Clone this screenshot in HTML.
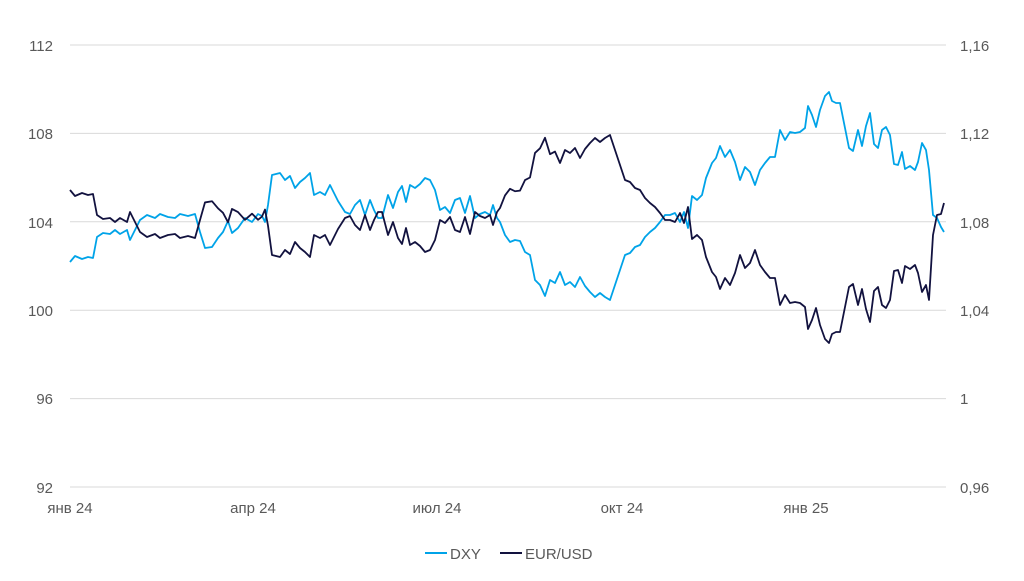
<!DOCTYPE html>
<html><head><meta charset="utf-8"><style>
body{margin:0;background:#fff;width:1024px;height:576px;overflow:hidden;font-family:"Liberation Sans",sans-serif}
svg text{font-family:"Liberation Sans",sans-serif;font-size:15px;fill:#595959}
</style></head><body>
<svg id="s" width="1024" height="576" xmlns="http://www.w3.org/2000/svg">
<g stroke="#d9d9d9" stroke-width="1">
<line x1="70" x2="946" y1="45" y2="45"/><line x1="70" x2="946" y1="133.4" y2="133.4"/>
<line x1="70" x2="946" y1="221.8" y2="221.8"/><line x1="70" x2="946" y1="310.2" y2="310.2"/>
<line x1="70" x2="946" y1="398.6" y2="398.6"/><line x1="70" x2="946" y1="487" y2="487"/>
</g>
<g text-anchor="end">
<text x="53" y="51">112</text><text x="53" y="139">108</text><text x="53" y="228">104</text>
<text x="53" y="316">100</text><text x="53" y="404">96</text><text x="53" y="493">92</text>
</g>
<g text-anchor="start">
<text x="960" y="51">1,16</text><text x="960" y="139">1,12</text><text x="960" y="228">1,08</text>
<text x="960" y="316">1,04</text><text x="960" y="404">1</text><text x="960" y="493">0,96</text>
</g>
<g text-anchor="middle">
<text x="70" y="513">янв 24</text><text x="253" y="513">апр 24</text><text x="437" y="513">июл 24</text>
<text x="622" y="513">окт 24</text><text x="806" y="513">янв 25</text>
</g>
<polyline id="d" fill="none" stroke="#00a3e8" stroke-width="1.8" stroke-linejoin="round"/>
<polyline id="e" fill="none" stroke="#12123f" stroke-width="1.8" stroke-linejoin="round"/>
<line x1="425" x2="447" y1="553" y2="553" stroke="#00a3e8" stroke-width="2"/>
<text x="450" y="559">DXY</text>
<line x1="500" x2="522" y1="553" y2="553" stroke="#12123f" stroke-width="2"/>
<text x="525" y="559">EUR/USD</text>
</svg>
<script>
var p=[70,262,75,256,82,259,88,257,93,258,97,237,103,233,110,234,115,230,120,234,127,230,130,240,135,230,140,220,147,215,155,218,160,214,168,217,175,218,180,214,188,216,195,214,200,232,205,248,212,247,218,238,223,232,228,221,232,233,238,228,245,218,252,222,258,214,262,216,265,222,268,205,272,175,280,173,285,180,290,176,295,188,300,182,305,178,310,173,314,195,320,192,325,195,330,185,338,201,345,212,350,214,355,205,360,200,365,215,370,200,374,210,378,218,382,218,388,195,393,208,398,192,402,186,406,202,410,185,415,188,420,184,425,178,430,180,435,190,440,210,445,207,450,213,455,200,460,198,465,213,470,196,475,218,480,214,485,212,490,215,493,205,497,218,500,222,505,235,510,242,515,240,520,241,525,252,530,255,535,280,540,285,545,296,550,280,555,283,560,272,565,285,570,282,575,287,580,277,585,286,590,292,595,297,600,293,605,297,610,300,615,285,620,270,625,255,630,253,635,247,640,245,645,237,650,232,655,228,660,222,665,215,670,215,675,213,680,222,684,212,688,228,692,196,697,200,702,195,706,178,712,163,716,158,720,146,725,157,730,150,735,162,740,180,745,167,750,172,755,185,760,170,765,163,770,157,775,157,780,130,785,140,790,132,795,133,800,132,805,128,808,106,812,115,816,127,820,110,825,96,829,92,832,101,836,103,840,103,845,128,849,148,853,151,858,130,862,146,866,126,870,113,874,144,878,148,882,130,886,127,890,135,894,164,898,165,902,152,905,169,910,166,915,170,918,162,922,143,926,150,929,170,933,215,937,218,941,227,944,232];
var d=[],e=[];
function sum(x){if(x<200)return 452;if(x<270)return 452-(x-200)/70*22;if(x<500)return 430;if(x<560)return 430+(x-500)/60*5;return 435;}
for(var i=0;i<p.length;i+=2){var x=p[i],y=p[i+1];d.push(x+","+y);var ey=sum(x)-y;if(x>=929)ey=[0,0][0]||(x==929?300:x==933?235:x==937?215:x==941?214:203);e.push(x+","+ey);}
document.getElementById("d").setAttribute("points",d.join(" "));
document.getElementById("e").setAttribute("points",e.join(" "));
</script>
</body></html>
